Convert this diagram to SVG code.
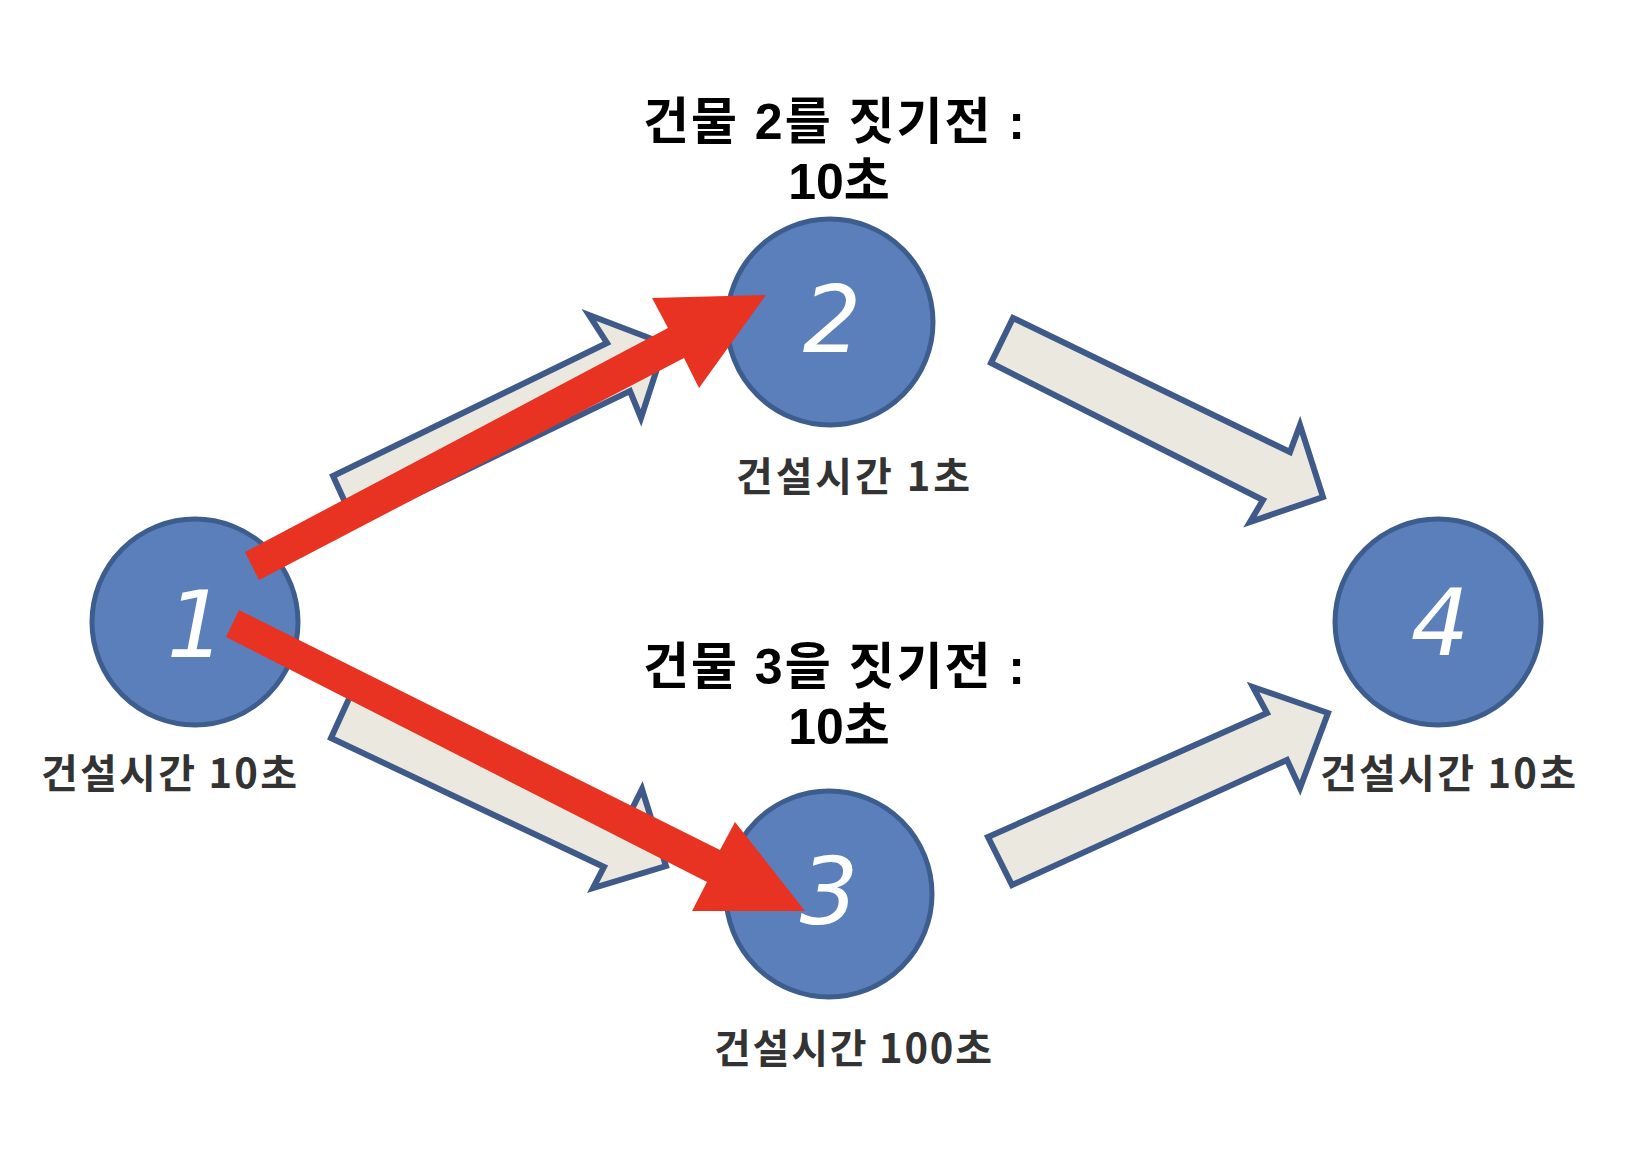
<svg xmlns="http://www.w3.org/2000/svg" width="1652" height="1162" viewBox="0 0 1652 1162">
  <style>
    .node circle { fill: #5a7fba; stroke: #3e5d8f; stroke-width: 5; }
    .digit { font-family: "DejaVu Sans", "Liberation Sans", sans-serif; font-style: italic; font-size: 92px; fill: #ffffff; text-anchor: middle; }
    .lbl { font-family: "Noto Sans CJK KR", "Noto Sans", sans-serif; font-weight: 700; font-size: 40px; fill: #333333; text-anchor: middle; }
    .title { font-family: "Liberation Sans", "Noto Sans CJK KR", sans-serif; font-weight: 700; font-size: 50px; fill: #000000; text-anchor: middle; }
    .hollow { fill: #ebe9df; stroke: #3f5a88; stroke-width: 6; stroke-linejoin: miter; }
    .red { fill: #e83323; stroke: none; }
  </style>
  <rect width="1652" height="1162" fill="#ffffff"/>

  <g id="connectors">
    <polygon class="hollow" points="333,476 607,343 589,315 665,344 641,418 630,391 355,524"/>
    <polygon class="hollow" points="352,692 626,821 642,789 666,866 593,888 604,867 331,738"/>
    <polygon class="hollow" points="1013,318 1290,452 1300,425 1323,497 1250,522 1263,500 991,363"/>
    <polygon class="hollow" points="988,837 1267,713 1253,687 1328,713 1300,788 1287,760 1012,885"/>
  </g>

  <g id="node-1" class="node">
    <circle cx="195" cy="622" r="103"/>
    <text class="digit" x="196" y="657">1</text>
    <text class="lbl" x="169" y="788" textLength="256" lengthAdjust="spacing">건설시간 10초</text>
  </g>
  <g id="node-2" class="node">
    <circle cx="830" cy="322" r="103"/>
    <text class="digit" x="832" y="352">2</text>
    <text class="lbl" x="853" y="491" textLength="234" lengthAdjust="spacing">건설시간 1초</text>
  </g>
  <g id="node-3" class="node">
    <circle cx="829" cy="894" r="103"/>
    <text class="digit" x="829" y="924">3</text>
    <text class="lbl" x="853" y="1063" textLength="278" lengthAdjust="spacing">건설시간 100초</text>
  </g>
  <g id="node-4" class="node">
    <circle cx="1438" cy="622" r="103"/>
    <text class="digit" x="1440" y="655">4</text>
    <text class="lbl" x="1448" y="788" textLength="256" lengthAdjust="spacing">건설시간 10초</text>
  </g>

  <g id="red-arrows">
    <polygon class="red" points="245,552 668,328 652,298 766,295 699,388 684,358 259,580"/>
    <polygon class="red" points="239,610 720,850 735,822 805,911 692,911 707,882 226,637"/>
  </g>

  <g id="title-2">
    <text class="title" x="834" y="139" textLength="382" lengthAdjust="spacing">건물 2를 짓기전 :</text>
    <text class="title" x="839" y="199">10초</text>
  </g>
  <g id="title-3">
    <text class="title" x="834" y="684" textLength="382" lengthAdjust="spacing">건물 3을 짓기전 :</text>
    <text class="title" x="839" y="744">10초</text>
  </g>
</svg>
